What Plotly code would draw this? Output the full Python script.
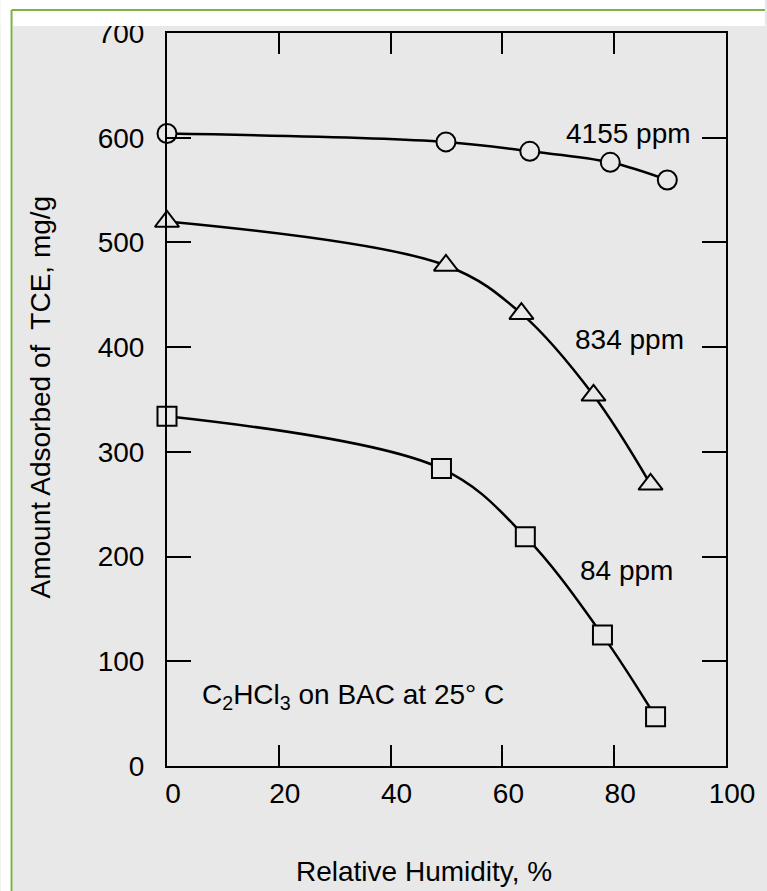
import plotly.graph_objects as go

# ---- data ----
rh_4155 = [0, 49.9, 64.9, 79.3, 89.5]
ads_4155 = [604, 596, 587, 576.5, 559.6]

rh_834 = [0, 49.9, 63.4, 76.3, 86.5]
ads_834 = [520, 478, 432, 354, 269]

rh_84 = [0, 49.1, 64.1, 77.9, 87.4]
ads_84 = [334, 284, 219, 125, 47]

series_labels = ["4155 ppm", "834 ppm", "84 ppm"]
label_x = [82.5, 82.8, 82.2]
label_y = [604.5, 407, 187]

x_ticks = [0, 20, 40, 60, 80, 100]
y_ticks = [0, 100, 200, 300, 400, 500, 600, 700]

note_text = "C<sub>2</sub>HCl<sub>3</sub> on BAC at 25° C"
x_title = "Relative Humidity, %"
y_title = "Amount Adsorbed of  TCE, mg/g"

# ---- layout constants ----
W, H = 767, 891
L, R, T, B = 167, 39, 33, 125
PW, PH = W - L - R, H - T - B
BG = "#e8e8e8"
GREEN = "#7cb342"
FONT = "Liberation Sans, Arial, Helvetica, sans-serif"
FS = 28


def px_x(p):
    return (p - L) / PW


def px_y(p):
    return (H - B - p) / PH


fig = go.Figure()

series = [
    (rh_4155, ads_4155, "circle", 19),
    (rh_834, ads_834, "triangle-up", 21),
    (rh_84, ads_84, "square", 19),
]
for (xs, ys, sym, size), name in zip(series, series_labels):
    fig.add_trace(go.Scatter(
        x=xs, y=ys, mode="lines+markers", name=name,
        line=dict(color="black", width=2.5, shape="spline", smoothing=1.0),
        marker=dict(symbol=sym, size=size, color=BG,
                    line=dict(color="black", width=2)),
        cliponaxis=False, showlegend=False,
    ))

annotations = []
for txt, lx, ly in zip(series_labels, label_x, label_y):
    annotations.append(dict(x=lx, y=ly, xref="x", yref="y", text=txt,
                            showarrow=False, xanchor="center", yanchor="middle",
                            font=dict(family=FONT, size=FS, color="black")))

annotations.append(dict(x=5.9, y=66, xref="x", yref="y", text=note_text,
                        showarrow=False, xanchor="left", yanchor="middle",
                        font=dict(family=FONT, size=FS, color="black")))

annotations.append(dict(x=px_x(425), y=px_y(872), xref="paper", yref="paper",
                        text=x_title, showarrow=False, xanchor="center",
                        yanchor="middle",
                        font=dict(family=FONT, size=FS, color="black")))
annotations.append(dict(x=px_x(40), y=px_y(397), xref="paper", yref="paper",
                        text=y_title, showarrow=False, xanchor="center",
                        yanchor="middle", textangle=-90,
                        font=dict(family=FONT, size=FS, color="black")))

shapes = [
    # white band at top and left (outside the grey panel)
    dict(type="rect", xref="paper", yref="paper", layer="above",
         x0=px_x(0), x1=px_x(W), y0=px_y(26), y1=px_y(0),
         fillcolor="white", line=dict(width=0)),
    dict(type="rect", xref="paper", yref="paper", layer="above",
         x0=px_x(0), x1=px_x(12), y0=px_y(H), y1=px_y(0),
         fillcolor="white", line=dict(width=0)),
    # green frame lines
    dict(type="line", xref="paper", yref="paper", layer="above",
         x0=px_x(11), x1=px_x(W), y0=px_y(10), y1=px_y(10),
         line=dict(color=GREEN, width=2)),
    dict(type="line", xref="paper", yref="paper", layer="above",
         x0=px_x(11), x1=px_x(11), y0=px_y(10), y1=px_y(H),
         line=dict(color=GREEN, width=2)),
]

axis_common = dict(
    showgrid=False, zeroline=False, showline=True, linecolor="black",
    linewidth=2, mirror="ticks", ticks="inside", tickcolor="black",
    tickwidth=2, tickfont=dict(family=FONT, size=FS, color="black"),
)

fig.update_layout(
    width=W, height=H,
    margin=dict(l=L, r=R, t=T, b=B, pad=0),
    paper_bgcolor=BG, plot_bgcolor=BG,
    xaxis=dict(range=[0, 100], tickvals=x_ticks,
               ticktext=[str(v) for v in x_ticks], ticklen=21,
               ticklabelstandoff=1, ticklabelshift=6, **axis_common),
    yaxis=dict(range=[0, 700], tickvals=y_ticks,
               ticktext=[str(v) for v in y_ticks], ticklen=24,
               ticklabelstandoff=15, **axis_common),
    annotations=annotations,
    shapes=shapes,
    showlegend=False,
)

fig.write_html("out.html")
